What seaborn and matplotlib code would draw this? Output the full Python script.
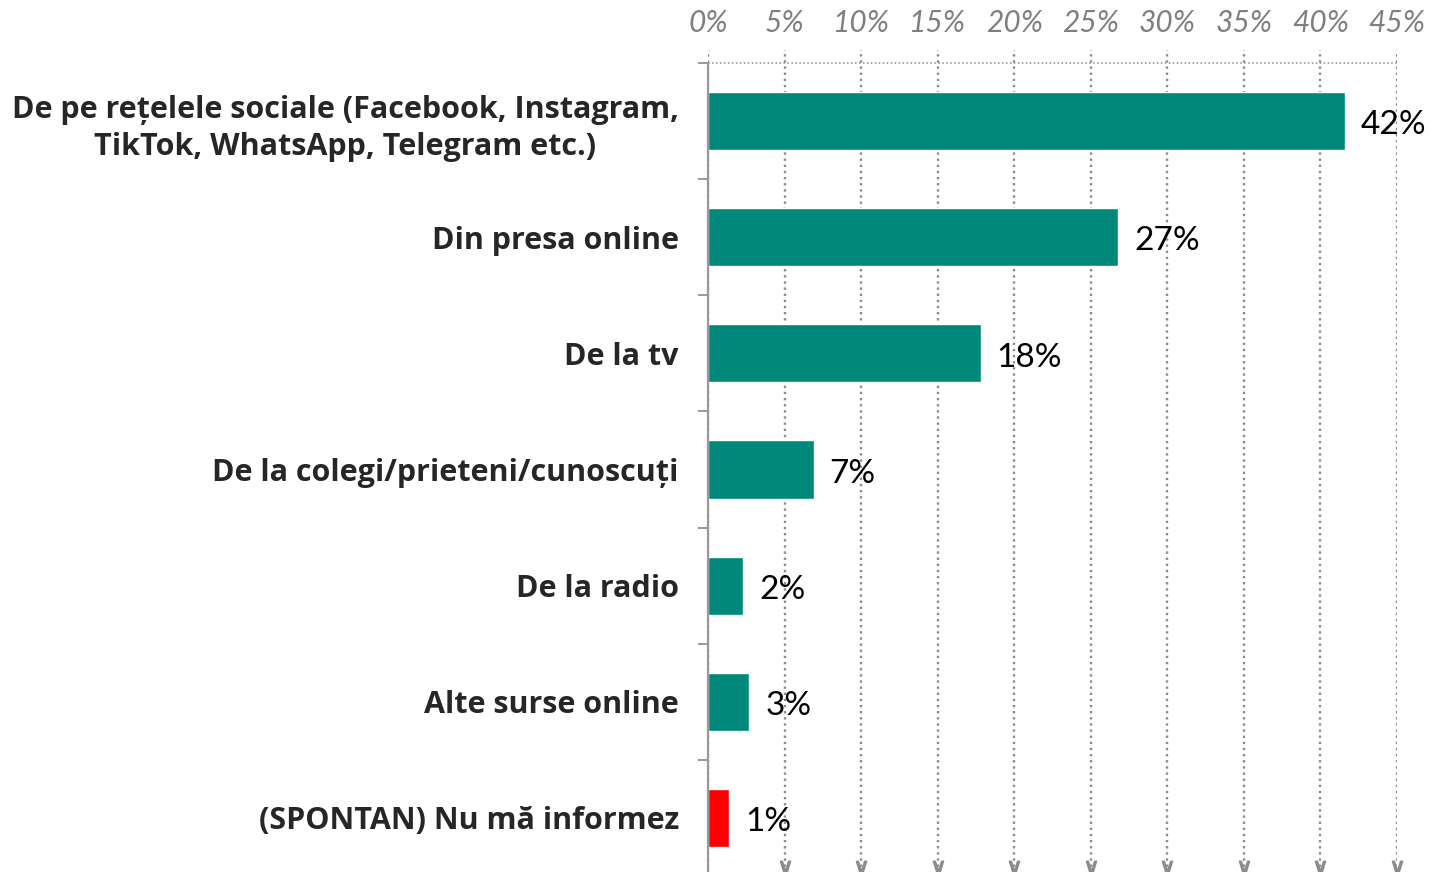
import matplotlib
matplotlib.use("Agg")
import matplotlib.pyplot as plt
import matplotlib.transforms as mtransforms
import seaborn as sns
import pandas as pd
import numpy as np

categories = [
    "De pe rețelele sociale (Facebook, Instagram,\nTikTok, WhatsApp, Telegram etc.)",
    "Din presa online",
    "De la tv",
    "De la colegi/prieteni/cunoscuți",
    "De la radio",
    "Alte surse online",
    "(SPONTAN) Nu mă informez",
]
values = [41.6, 26.8, 17.8, 6.9, 2.3, 2.7, 1.4]
value_labels = ["42%", "27%", "18%", "7%", "2%", "3%", "1%"]
bar_colors = ["#00897B", "#00897B", "#00897B", "#00897B", "#00897B", "#00897B", "#FF0000"]
x_ticks = [0, 5, 10, 15, 20, 25, 30, 35, 40, 45]
x_tick_labels = ["0%", "5%", "10%", "15%", "20%", "25%", "30%", "35%", "40%", "45%"]

sns.set_theme(style="white")
plt.rcParams["font.family"] = ["Lato", "DejaVu Sans"]

W, H, DPI = 1430, 872, 100
fig = plt.figure(figsize=(W / DPI, H / DPI), dpi=DPI)
left, right = 708 / W, 1397 / W
top_px, bot_px = 50, 876
ax = fig.add_axes([left, 1 - bot_px / H, right - left, (bot_px - top_px) / H])

df = pd.DataFrame({"cat": categories, "val": values})
sns.barplot(data=df, y="cat", x="val", hue="cat", palette=bar_colors,
            orient="h", width=0.5, legend=False, ax=ax, saturation=1)

ax.set_xlim(0, 45)
ax.set_ylim(6.5, -0.612)
ax.set_xlabel("")
ax.set_ylabel("")

# grid
ax.set_xticks(x_ticks)
ax.set_xticklabels(x_tick_labels)
ax.xaxis.tick_top()
ax.tick_params(axis="x", length=0, pad=9.5, labelsize=21.5, labelcolor="#7f7f7f")
for t in ax.get_xticklabels():
    t.set_fontstyle("italic")
ax.grid(axis="x", color="#8c8c8c", linestyle=(0, (1, 1.6)), linewidth=1.7)
ax.set_axisbelow(True)

for s in ["top", "right", "bottom"]:
    ax.spines[s].set_visible(False)
ax.spines["left"].set_color("#999999")
ax.spines["left"].set_linewidth(1.6)
ax.spines["left"].set_bounds(6.5, -0.5)
ax.spines["left"].set_zorder(5)
ax.axhline(-0.5, color="#8c8c8c", linestyle=(0, (1, 1.6)), linewidth=1.1, zorder=1)

# y ticks
ax.set_yticks(range(len(categories)))
ax.set_yticklabels(categories)
ax.tick_params(axis="y", length=0, pad=21, labelsize=22, labelcolor="#262626")
for t in ax.get_yticklabels():
    t.set_fontfamily(["Open Sans", "DejaVu Sans"])
    t.set_fontweight("bold")
    t.set_multialignment("center")
    t.set_linespacing(1.33)
ax.set_yticks(np.arange(-0.5, len(categories) - 0.5, 1), minor=True)
ax.tick_params(axis="y", which="minor", length=7.2, width=1.4, color="#999999", left=True)

# value labels
for i, (v, lab) in enumerate(zip(values, value_labels)):
    ax.annotate(lab, xy=(v, i), xytext=(11.5, -3), textcoords="offset points",
                ha="left", va="center", fontsize=24, color="black")

# arrow heads at bottom of gridlines
trans = mtransforms.blended_transform_factory(ax.transData, fig.transFigure)
ax.plot(x_ticks[1:], [5 / H] * (len(x_ticks) - 1), transform=trans, ls="none",
        marker=r"$\vee$", markersize=9, color="#8c8c8c", clip_on=False)

fig.savefig("out.png", dpi=DPI)
